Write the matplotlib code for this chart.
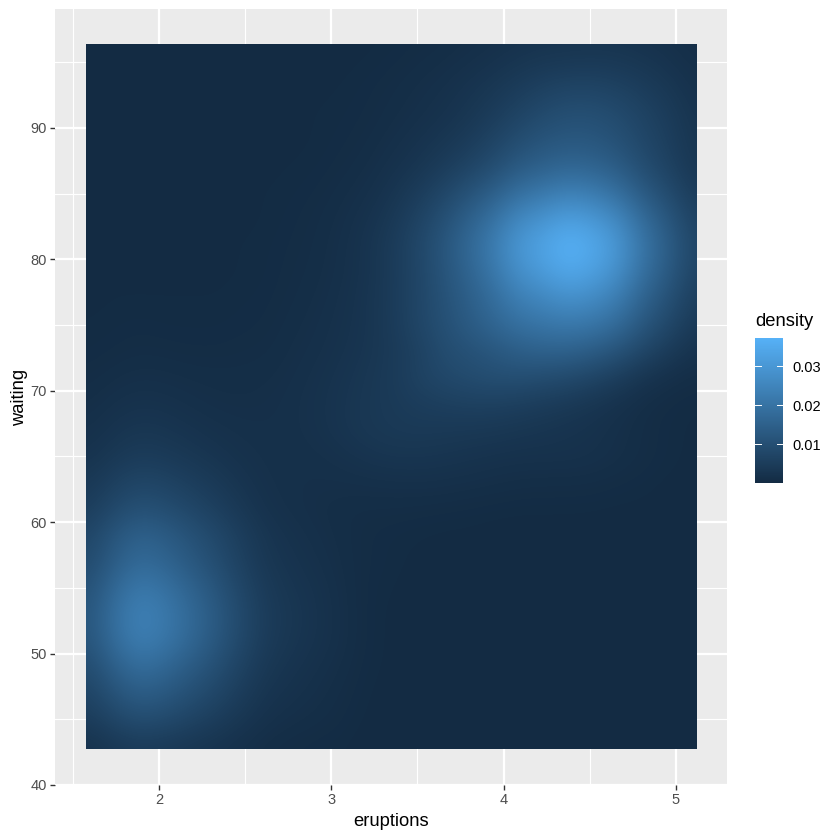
"""
faithfuld style density raster - values read by eye off the reference, on a coarse grid
"""
import numpy as np
import matplotlib as mpl
import matplotlib.pyplot as plt
from matplotlib.colors import LinearSegmentedColormap, Normalize
from matplotlib.patches import Rectangle

mpl.rcParams["font.family"] = ["Liberation Sans", "DejaVu Sans"]

# grid of the table below, centre of first and last cells
X_CENTRES = (1.6, 5.1)
Y_CENTRES = (43, 97)
# visible raster edges, in data units
X_EDGES = (1.576, 5.12)
Y_EDGES = (42.74, 96.35)

X_TICKS = [2, 3, 4, 5]
Y_TICKS = [40, 50, 60, 70, 80, 90]
X_MINOR = [1.5, 2.5, 3.5, 4.5]
Y_MINOR = [45, 55, 65, 75, 85, 95]
LEGEND_TICKS = [0.01, 0.02, 0.03]
LEGEND_LABELS = ["0.01", "0.02", "0.03"]
DENSITY_MAX = 0.0372

# density x 1e4, rows from waiting=43 up to 97, columns eruptions=1.6 to 5.1
DENSITY_E4 = [
    [22, 36, 45, 40, 32, 24, 16, 9, 6, 4, 3, 1, 0, 0, 0, 0, 0, 0, 0, 0, 0, 0, 0, 0, 0],
    [48, 76, 95, 86, 68, 51, 33, 19, 13, 10, 6, 2, 1, 0, 0, 0, 0, 0, 0, 0, 0, 0, 0, 0, 0],
    [70, 112, 140, 126, 101, 76, 49, 28, 20, 14, 8, 3, 1, 0, 0, 0, 0, 0, 0, 0, 0, 0, 0, 0, 0],
    [92, 148, 185, 166, 133, 100, 65, 37, 26, 18, 11, 4, 2, 0, 0, 0, 0, 0, 0, 0, 0, 0, 0, 0, 0],
    [115, 184, 230, 207, 166, 124, 80, 46, 32, 23, 14, 5, 2, 0, 0, 0, 0, 0, 0, 0, 0, 0, 0, 0, 0],
    [120, 192, 240, 216, 173, 130, 84, 48, 34, 24, 14, 5, 2, 0, 0, 0, 0, 0, 0, 0, 0, 0, 0, 0, 0],
    [108, 172, 215, 194, 155, 116, 75, 43, 30, 22, 13, 5, 3, 1, 0, 0, 0, 0, 0, 0, 0, 0, 0, 0, 0],
    [88, 140, 175, 158, 126, 95, 61, 35, 25, 18, 11, 6, 4, 2, 1, 0, 0, 0, 0, 0, 0, 0, 0, 0, 0],
    [75, 120, 150, 135, 108, 81, 53, 30, 21, 15, 10, 6, 4, 3, 2, 2, 1, 1, 1, 1, 0, 0, 0, 0, 0],
    [52, 84, 105, 95, 76, 57, 37, 21, 16, 12, 9, 8, 8, 7, 6, 5, 4, 3, 3, 3, 3, 2, 2, 1, 0],
    [38, 60, 75, 68, 54, 41, 27, 18, 15, 14, 14, 15, 16, 17, 16, 14, 12, 10, 9, 9, 8, 6, 4, 2, 1],
    [24, 38, 48, 43, 35, 27, 20, 16, 15, 16, 20, 26, 30, 30, 28, 25, 22, 20, 20, 20, 18, 13, 8, 4, 2],
    [17, 26, 33, 30, 24, 19, 16, 15, 16, 20, 28, 36, 40, 42, 40, 38, 36, 32, 28, 24, 20, 14, 8, 4, 2],
    [11, 18, 22, 20, 16, 13, 12, 13, 16, 21, 28, 36, 42, 50, 55, 60, 60, 55, 48, 40, 30, 20, 10, 5, 3],
    [7, 11, 14, 13, 11, 10, 10, 11, 14, 19, 26, 34, 44, 63, 80, 90, 98, 100, 92, 85, 70, 50, 28, 15, 8],
    [4, 6, 8, 7, 6, 6, 7, 8, 12, 16, 22, 30, 42, 60, 90, 105, 120, 140, 150, 150, 135, 110, 75, 45, 22],
    [3, 4, 5, 4, 4, 4, 5, 6, 10, 14, 20, 28, 45, 72, 100, 130, 160, 190, 205, 215, 205, 175, 120, 80, 40],
    [2, 3, 3, 3, 3, 3, 4, 5, 8, 12, 18, 28, 45, 72, 105, 140, 180, 230, 255, 280, 265, 225, 155, 105, 55],
    [2, 2, 2, 2, 2, 2, 3, 4, 7, 10, 16, 25, 45, 72, 110, 155, 207, 275, 310, 345, 325, 275, 190, 130, 68],
    [2, 2, 2, 2, 2, 2, 3, 4, 6, 9, 15, 26, 45, 75, 115, 167, 223, 297, 335, 372, 350, 297, 205, 140, 75],
    [2, 2, 2, 2, 2, 2, 2, 3, 5, 8, 13, 22, 38, 65, 100, 146, 195, 260, 292, 325, 305, 260, 180, 122, 65],
    [2, 2, 2, 2, 2, 2, 2, 3, 4, 6, 10, 16, 28, 48, 74, 108, 144, 190, 216, 240, 226, 190, 132, 90, 48],
    [2, 2, 2, 2, 2, 2, 2, 2, 3, 4, 7, 11, 20, 30, 48, 68, 95, 130, 150, 165, 158, 135, 95, 65, 34],
    [2, 2, 2, 2, 2, 2, 2, 2, 2, 3, 5, 8, 14, 22, 32, 46, 68, 95, 115, 125, 122, 105, 78, 55, 30],
    [2, 2, 2, 2, 2, 2, 2, 2, 2, 3, 4, 6, 10, 15, 22, 32, 48, 68, 88, 100, 100, 88, 68, 48, 26],
    [1, 1, 1, 1, 1, 1, 1, 1, 2, 2, 3, 5, 8, 12, 17, 25, 35, 48, 62, 72, 72, 64, 50, 36, 20],
    [1, 1, 1, 1, 1, 1, 1, 1, 1, 1, 2, 3, 5, 8, 11, 16, 22, 30, 36, 38, 40, 38, 32, 24, 14],
    [1, 1, 1, 1, 1, 1, 1, 1, 1, 1, 1, 2, 3, 5, 7, 10, 14, 19, 22, 24, 25, 24, 20, 15, 9],
]

density = np.array(DENSITY_E4) / 1e4
n_rows, n_cols = density.shape
half_x = (X_CENTRES[1] - X_CENTRES[0]) / (n_cols - 1) / 2
half_y = (Y_CENTRES[1] - Y_CENTRES[0]) / (n_rows - 1) / 2

cmap = LinearSegmentedColormap.from_list("ggblue", ["#132B43", "#56B1F7"])
norm = Normalize(0, DENSITY_MAX)

W, H = 840, 840
fig = plt.figure(figsize=(W / 100, H / 100), dpi=100, facecolor="white")

# panel, placed by pixel box
ax = fig.add_axes([55 / W, 1 - 785 / H, (727 - 55) / W, (785 - 9) / H])
ax.set_facecolor("#EBEBEB")
for s in ax.spines.values():
    s.set_visible(False)
ax.set_axisbelow(True)

# gridlines
for v in X_MINOR:
    ax.axvline(v, color="white", lw=0.8, zorder=1)
for v in Y_MINOR:
    ax.axhline(v, color="white", lw=0.8, zorder=1)
for v in X_TICKS:
    ax.axvline(v, color="white", lw=1.6, zorder=1)
for v in Y_TICKS:
    ax.axhline(v, color="white", lw=1.6, zorder=1)

im = ax.imshow(density, origin="lower", aspect="auto", cmap=cmap, norm=norm,
               extent=[X_CENTRES[0] - half_x, X_CENTRES[1] + half_x,
                       Y_CENTRES[0] - half_y, Y_CENTRES[1] + half_y],
               interpolation="bicubic", zorder=2)
ax.set_xlim(1.396, 5.297)
ax.set_ylim(40, 99.05)
im.set_clip_path(Rectangle((X_EDGES[0], Y_EDGES[0]), X_EDGES[1] - X_EDGES[0],
                           Y_EDGES[1] - Y_EDGES[0], transform=ax.transData))

ax.set_xticks(X_TICKS)
ax.set_yticks(Y_TICKS)
ax.tick_params(length=3.3, width=1.0, color="#333333", labelcolor="#4D4D4D",
               labelsize=10.5, pad=2.5)
ax.set_xlabel("eruptions", fontsize=13.2, color="black", labelpad=4.5)
ax.set_ylabel("waiting", fontsize=13.2, color="black", labelpad=1.5)

# legend bar
cax = fig.add_axes([755 / W, 1 - 483 / H, 28 / W, 145 / H])
cb = fig.colorbar(mpl.cm.ScalarMappable(norm=norm, cmap=cmap), cax=cax)
cb.outline.set_visible(False)
cb.set_ticks(LEGEND_TICKS)
cb.set_ticklabels(LEGEND_LABELS)
cax.tick_params(length=0, labelsize=10.5, labelcolor="black", pad=7)
for v in LEGEND_TICKS:
    cax.plot([0, 0.2], [v, v], color="white", lw=0.7, transform=cax.get_yaxis_transform())
    cax.plot([0.8, 1], [v, v], color="white", lw=0.7, transform=cax.get_yaxis_transform())
fig.text(755 / W, 1 - 322 / H, "density", fontsize=13.2, color="black", ha="left", va="center")

fig.savefig("out.png", dpi=100, facecolor="white")
plt.close(fig)
